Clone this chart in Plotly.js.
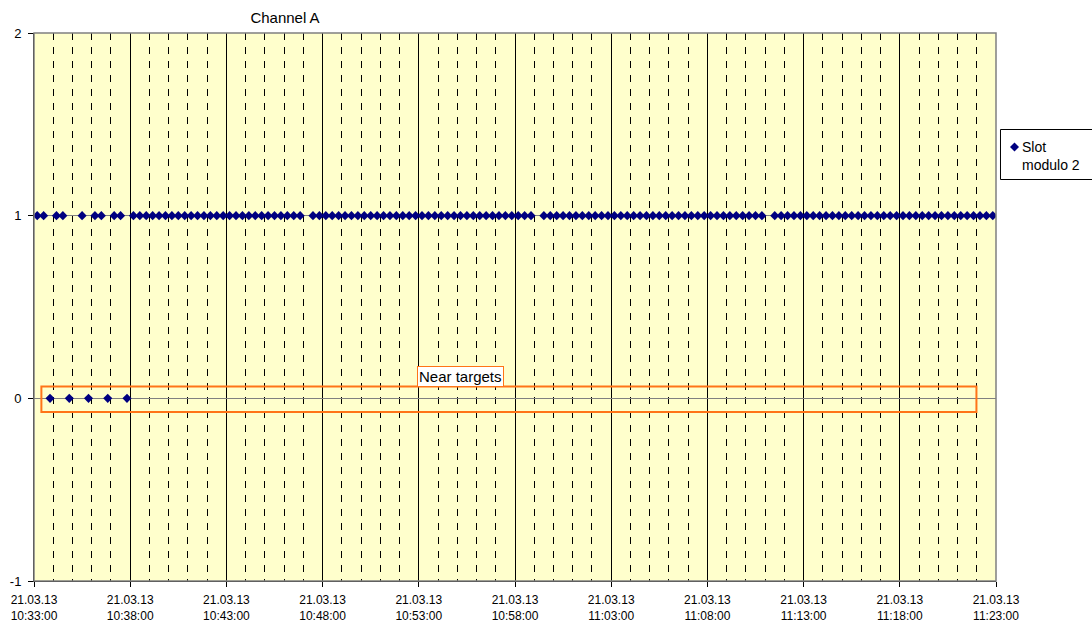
<!DOCTYPE html>
<html>
<head>
<meta charset="utf-8">
<script src="https://cdn.plot.ly/plotly-3.0.1.min.js"></script>
<style>html,body{margin:0;padding:0;background:#fff;}#chart{width:1092px;height:623px;}</style>
</head>
<body>
<div id="chart"></div>
<script>
const chartDate = "2013-03-21";
const seriesName = "Slot<br>modulo 2";
const sampleTimes = [
"10:33:10","10:33:30","10:33:50","10:34:10","10:34:30","10:34:50","10:35:10","10:35:30","10:35:50",
"10:36:10","10:36:30","10:36:50","10:37:10","10:37:30","10:37:50","10:38:10","10:38:30","10:38:50",
"10:39:10","10:39:30","10:39:50","10:40:10","10:40:30","10:40:50","10:41:10","10:41:30","10:41:50",
"10:42:10","10:42:30","10:42:50","10:43:10","10:43:30","10:43:50","10:44:10","10:44:30","10:44:50",
"10:45:10","10:45:30","10:45:50","10:46:10","10:46:30","10:46:50","10:47:10","10:47:30","10:47:50",
"10:48:10","10:48:30","10:48:50","10:49:10","10:49:30","10:49:50","10:50:10","10:50:30","10:50:50",
"10:51:10","10:51:30","10:51:50","10:52:10","10:52:30","10:52:50","10:53:10","10:53:30","10:53:50",
"10:54:10","10:54:30","10:54:50","10:55:10","10:55:30","10:55:50","10:56:10","10:56:30","10:56:50",
"10:57:10","10:57:30","10:57:50","10:58:10","10:58:30","10:58:50","10:59:10","10:59:30","10:59:50",
"11:00:10","11:00:30","11:00:50","11:01:10","11:01:30","11:01:50","11:02:10","11:02:30","11:02:50",
"11:03:10","11:03:30","11:03:50","11:04:10","11:04:30","11:04:50","11:05:10","11:05:30","11:05:50",
"11:06:10","11:06:30","11:06:50","11:07:10","11:07:30","11:07:50","11:08:10","11:08:30","11:08:50",
"11:09:10","11:09:30","11:09:50","11:10:10","11:10:30","11:10:50","11:11:10","11:11:30","11:11:50",
"11:12:10","11:12:30","11:12:50","11:13:10","11:13:30","11:13:50","11:14:10","11:14:30","11:14:50",
"11:15:10","11:15:30","11:15:50","11:16:10","11:16:30","11:16:50","11:17:10","11:17:30","11:17:50",
"11:18:10","11:18:30","11:18:50","11:19:10","11:19:30","11:19:50","11:20:10","11:20:30","11:20:50",
"11:21:10","11:21:30","11:21:50","11:22:10","11:22:30","11:22:50"
];
const sampleValues = [
1,1,0, 1,1,0, null,1,0,
1,1,0, 1,1,0, 1,1,1,
1,1,1, 1,1,1, 1,1,1,
1,1,1, 1,1,1, 1,1,1,
1,1,1, 1,1,1, null,1,1,
1,1,1, 1,1,1, 1,1,1,
1,1,1, 1,1,1, 1,1,1,
1,1,1, 1,1,1, 1,1,1,
1,1,1, 1,1,1, null,1,1,
1,1,1, 1,1,1, 1,1,1,
1,1,1, 1,1,1, 1,1,1,
1,1,1, 1,1,1, 1,1,1,
1,1,1, 1,1,1, null,1,1,
1,1,1, 1,1,1, 1,1,1,
1,1,1, 1,1,1, 1,1,1,
1,1,1, 1,1,1, 1,1,1,
1,1,1, 1,1,1, 1,1,1
];
const xStart = "10:33:00";
const xEnd = "11:23:00";
const yTicks = [-1, 0, 1, 2];
const boxStart = "10:33:23";
const boxEnd = "11:21:59";
const boxLow = -0.075;
const boxHigh = 0.065;
const boxLabel = "Near targets";
const titleText = "Channel A";

const d = t => chartDate + " " + t;
const NAVY = "#000080";
const ORANGE = "#FF7418";
// plot area in pixels: left 34, right 996.5, top 33, bottom 581
const px = v => (v - 34) / 962.5;
const py = v => (581 - v) / 548;

const trace = {
  type: "scatter",
  mode: "markers",
  name: seriesName,
  x: sampleTimes.map(d),
  y: sampleValues,
  marker: {symbol: "diamond", size: 7, color: NAVY, line: {width: 0}},
  showlegend: false
};

const layout = {
  width: 1092, height: 623,
  margin: {l: 34, r: 95.5, t: 33, b: 42, pad: 0, autoexpand: false},
  paper_bgcolor: "#ffffff",
  plot_bgcolor: "#FFFFCC",
  font: {family: "Arial, 'Liberation Sans', sans-serif", size: 12, color: "#000"},
  showlegend: false,
  title: {text: titleText, font: {size: 15, color: "#000"}, x: 285/1092, xanchor: "center", y: 1 - 18/623, yanchor: "middle", xref: "container", yref: "container"},
  xaxis: {
    type: "date",
    range: [d(xStart), d(xEnd)],
    tick0: d(xStart), dtick: 300000,
    tickformat: "%d.%m.%y<br>%H:%M:%S",
    showgrid: true, gridcolor: "#000", gridwidth: 1,
    minor: {dtick: 60000, tick0: d(xStart), showgrid: true, gridcolor: "#000", gridwidth: 1, griddash: "7px,7px", ticks: ""},
    ticks: "outside", ticklen: 5, tickcolor: "#000",
    showline: true, linecolor: "#000", linewidth: 1,
    zeroline: false,
    tickfont: {size: 12, color: "#000"},
    ticklabelstandoff: 3,
    automargin: false,
    fixedrange: true
  },
  yaxis: {
    range: [-1, 2],
    tickvals: yTicks,
    ticktext: yTicks.map(String),
    showgrid: true, gridcolor: "#808080", gridwidth: 1,
    zeroline: false,
    ticks: "outside", ticklen: 5, tickcolor: "#000",
    showline: true, linecolor: "#000", linewidth: 1,
    tickfont: {size: 13, color: "#000"},
    ticklabelstandoff: 4,
    automargin: false,
    fixedrange: true
  },
  shapes: [
    {type: "rect", xref: "paper", yref: "paper", x0: 0, x1: 1, y0: 0, y1: 1, line: {color: "#808080", width: 1.5}, fillcolor: "rgba(0,0,0,0)", layer: "above"},
    {type: "rect", xref: "x", yref: "y", x0: d(boxStart), x1: d(boxEnd), y0: boxLow, y1: boxHigh, line: {color: ORANGE, width: 2}, fillcolor: "rgba(0,0,0,0)", layer: "above"},
    // legend box and symbol
    {type: "rect", xref: "paper", yref: "paper", x0: px(1001), x1: px(1100), y0: py(179.5), y1: py(129.5), line: {color: "#000", width: 1}, fillcolor: "#ffffff", layer: "above"},
    {type: "path", xref: "paper", yref: "paper", xsizemode: "pixel", ysizemode: "pixel", xanchor: px(1015), yanchor: py(147),
     path: "M -4.5,0 L 0,4.5 L 4.5,0 L 0,-4.5 Z", fillcolor: NAVY, line: {width: 0}, layer: "above"}
  ],
  annotations: [
    {text: boxLabel, xref: "paper", yref: "paper", x: px(461), y: py(376), xanchor: "center", yanchor: "middle", showarrow: false,
     font: {size: 15, color: "#000"}, bgcolor: "#ffffff", bordercolor: ORANGE, borderwidth: 1, borderpad: 1},
    {text: seriesName, xref: "paper", yref: "paper", x: px(1021), y: py(156), xanchor: "left", yanchor: "middle", align: "left", showarrow: false,
     font: {size: 14, color: "#000"}}
  ]
};

Plotly.newPlot("chart", [trace], layout, {staticPlot: true, displayModeBar: false});
</script>
</body>
</html>
